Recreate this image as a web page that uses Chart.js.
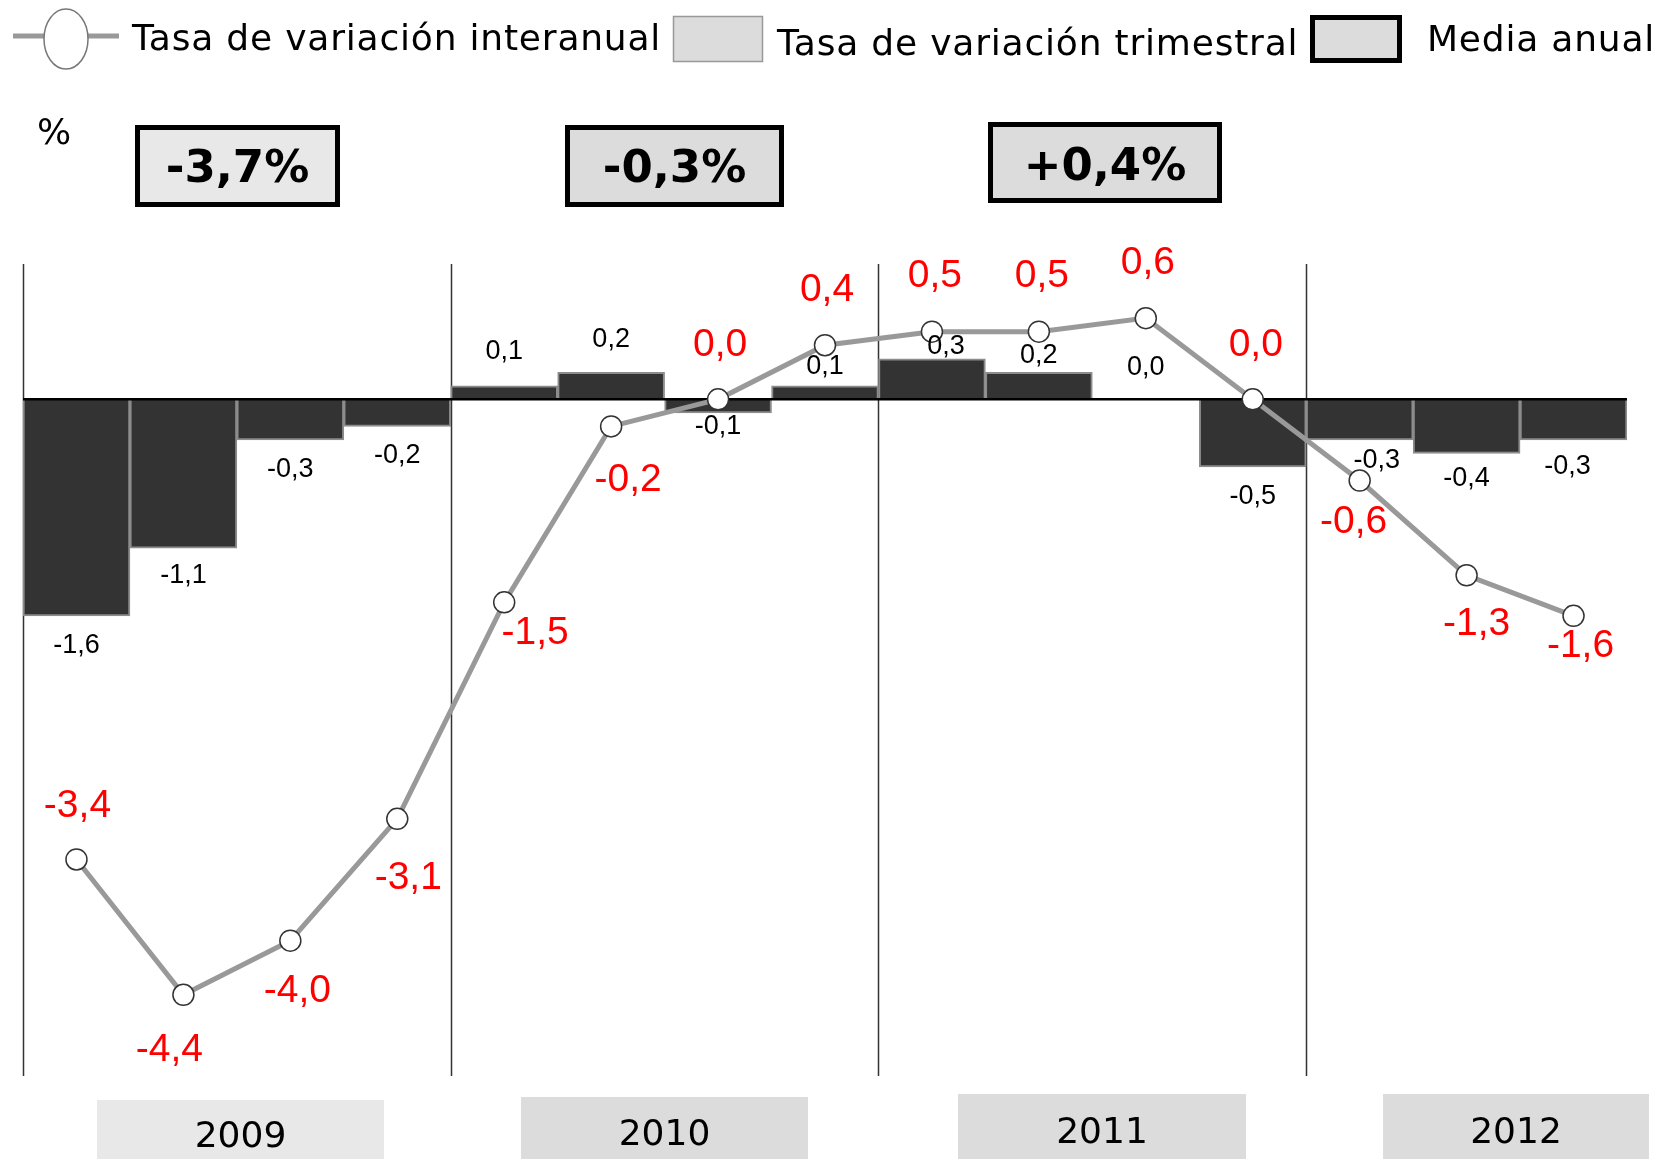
<!DOCTYPE html>
<html>
<head>
<meta charset="utf-8">
<script src="https://cdn.jsdelivr.net/npm/chart.js@4.4.0/dist/chart.umd.min.js"></script>
<style>
  html, body { margin: 0; padding: 0; background: #fff; overflow: hidden; }
  canvas { display: block; }
</style>
</head>
<body>
<canvas id="chart" width="1657" height="1159"></canvas>
<script>
// data
const quarters = ['2009 T1', '2009 T2', '2009 T3', '2009 T4',
                  '2010 T1', '2010 T2', '2010 T3', '2010 T4',
                  '2011 T1', '2011 T2', '2011 T3', '2011 T4',
                  '2012 T1', '2012 T2', '2012 T3'];
const years = ['2009', '2010', '2011', '2012'];
const quarterly = [-1.6, -1.1, -0.3, -0.2, 0.1, 0.2, -0.1, 0.1, 0.3, 0.2, 0.0, -0.5, -0.3, -0.4, -0.3];
const interannual = [-3.4, -4.4, -4.0, -3.1, -1.5, -0.2, 0.0, 0.4, 0.5, 0.5, 0.6, 0.0, -0.6, -1.3, -1.6];
const annualMean = [-3.7, -0.3, 0.4];

const fmt = v => v.toFixed(1).replace('.', ',');
const fmtSigned = v => (v > 0 ? '+' : '') + fmt(v) + '%';

const SANS = '"DejaVu Sans", Verdana, sans-serif';
const ARIAL = '"Liberation Sans", Arial, sans-serif';

// hand placement of the value labels (pixels from the mark)
const barLabelDx = [0, 0, 0, 0, 0, 0, 0, 0, 14, 0, 0, 0, 17, 0, -6];
const barLabelDy = [30, 27, 30, 29, -34, -33, 14, -19, -12, -17, -32, 30, 21, 25, 27];
const lineLabelOff = [[1, -53], [-14, 55], [7, 51], [11, 59], [31, 31], [17, 54], [2, -54], [2, -55],
                      [3, -55], [3, -55], [2, -55], [3, -54], [-6, 42], [10, 49], [7, 30]];

const decor = {
  id: 'decor',
  beforeDatasetsDraw(chart) {
    const { ctx, chartArea: a, scales: { x } } = chart;
    const step = x.getPixelForValue(1) - x.getPixelForValue(0);
    ctx.save();
    ctx.strokeStyle = '#333';
    ctx.lineWidth = 1.5;
    for (let i = 0; i < quarters.length; i += 4) {
      const px = Math.round(x.getPixelForValue(i) - step / 2) + 0.5;
      ctx.beginPath();
      ctx.moveTo(px, a.top);
      ctx.lineTo(px, a.bottom);
      ctx.stroke();
    }
    ctx.restore();
  },
  beforeDatasetDraw(chart, args) {
    // zero line goes over the bars, under the line
    if (args.index !== 0) return;
    const { ctx, chartArea: a, scales: { y } } = chart;
    const y0 = y.getPixelForValue(0);
    ctx.save();
    ctx.strokeStyle = '#000';
    ctx.lineWidth = 2.5;
    ctx.beginPath();
    ctx.moveTo(a.left, y0);
    ctx.lineTo(a.right, y0);
    ctx.stroke();
    ctx.restore();
  },
  afterDatasetsDraw(chart) {
    const { ctx } = chart;
    ctx.save();
    ctx.textAlign = 'center';
    ctx.textBaseline = 'middle';

    ctx.fillStyle = '#000';
    ctx.font = '27px ' + ARIAL;
    chart.getDatasetMeta(1).data.forEach((bar, i) => {
      ctx.fillText(fmt(quarterly[i]), bar.x + barLabelDx[i], bar.y + barLabelDy[i]);
    });

    ctx.fillStyle = '#ff0000';
    ctx.font = '39px ' + ARIAL;
    chart.getDatasetMeta(0).data.forEach((pt, i) => {
      const [dx, dy] = lineLabelOff[i];
      ctx.fillText(fmt(interannual[i]), pt.x + dx, pt.y + dy);
    });
    ctx.restore();
  },
  afterDraw(chart) {
    const { ctx } = chart;
    ctx.save();

    // legend
    ctx.strokeStyle = '#999';
    ctx.lineWidth = 5;
    ctx.beginPath();
    ctx.moveTo(13, 36);
    ctx.lineTo(119, 36);
    ctx.stroke();
    ctx.beginPath();
    ctx.ellipse(66, 39, 22, 30, 0, 0, Math.PI * 2);
    ctx.fillStyle = '#fff';
    ctx.fill();
    ctx.strokeStyle = '#777';
    ctx.lineWidth = 1.5;
    ctx.stroke();

    ctx.fillStyle = '#dcdcdc';
    ctx.fillRect(673, 16, 90, 46);
    ctx.strokeStyle = '#999';
    ctx.lineWidth = 1.5;
    ctx.strokeRect(673.5, 16.5, 89, 45);

    ctx.fillStyle = '#dcdcdc';
    ctx.fillRect(1310, 15, 92, 48);
    ctx.strokeStyle = '#000';
    ctx.lineWidth = 5;
    ctx.strokeRect(1312.5, 17.5, 87, 43);

    ctx.fillStyle = '#000';
    ctx.font = '36px ' + SANS;
    ctx.textAlign = 'left';
    ctx.textBaseline = 'alphabetic';
    ctx.letterSpacing = '0.8px';
    ctx.fillText('Tasa de variación interanual', 132, 50);
    ctx.fillText('Tasa de variación trimestral', 777, 55);
    ctx.fillText('Media anual', 1427, 51);
    ctx.letterSpacing = '0px';

    ctx.fillText('%', 37, 144);

    // annual means
    const meanBoxes = [
      { x: 135, y: 125, w: 205, h: 82, fill: '#e8e8e8', base: 182 },
      { x: 565, y: 125, w: 219, h: 82, fill: '#dcdcdc', base: 182 },
      { x: 988, y: 122, w: 234, h: 81, fill: '#dcdcdc', base: 180 }
    ];
    ctx.font = 'bold 45px ' + SANS;
    ctx.textAlign = 'center';
    annualMean.forEach((m, i) => {
      const b = meanBoxes[i];
      ctx.fillStyle = b.fill;
      ctx.fillRect(b.x, b.y, b.w, b.h);
      ctx.strokeStyle = '#000';
      ctx.lineWidth = 5;
      ctx.strokeRect(b.x + 2.5, b.y + 2.5, b.w - 5, b.h - 5);
      ctx.fillStyle = '#000';
      ctx.fillText(fmtSigned(m), b.x + b.w / 2, b.base);
    });

    // year tabs
    const yearBoxes = [
      { x: 97, y: 1100, w: 287, fill: '#e8e8e8', base: 1147 },
      { x: 521, y: 1097, w: 287, fill: '#dcdcdc', base: 1145 },
      { x: 958, y: 1094, w: 288, fill: '#dcdcdc', base: 1143 },
      { x: 1383, y: 1094, w: 266, fill: '#dcdcdc', base: 1143 }
    ];
    ctx.font = '36px ' + SANS;
    years.forEach((yr, i) => {
      const b = yearBoxes[i];
      ctx.fillStyle = b.fill;
      ctx.fillRect(b.x, b.y, b.w, 1159 - b.y);
      ctx.fillStyle = '#000';
      ctx.fillText(yr, b.x + b.w / 2, b.base);
    });
    ctx.restore();
  }
};

new Chart(document.getElementById('chart'), {
  data: {
    labels: quarters,
    datasets: [
      {
        type: 'line',
        label: 'Tasa de variación interanual',
        data: interannual,
        borderColor: '#999999',
        borderWidth: 5,
        pointRadius: 10.5,
        pointBackgroundColor: '#ffffff',
        pointBorderColor: '#333333',
        pointBorderWidth: 1.5,
        tension: 0,
        order: 0
      },
      {
        type: 'bar',
        label: 'Tasa de variación trimestral',
        data: quarterly,
        backgroundColor: '#333333',
        borderColor: '#8c8c8c',
        borderWidth: 2,
        barPercentage: 1,
        categoryPercentage: 1,
        order: 1
      }
    ]
  },
  options: {
    responsive: false,
    animation: false,
    devicePixelRatio: 1,
    layout: { padding: { left: 23, right: 30, top: 264, bottom: 83 } },
    scales: {
      x: { display: false, offset: true },
      y: { display: false, min: -5, max: 1 }
    },
    plugins: {
      legend: { display: false },
      tooltip: { enabled: false }
    }
  },
  plugins: [decor]
});
</script>
</body>
</html>
